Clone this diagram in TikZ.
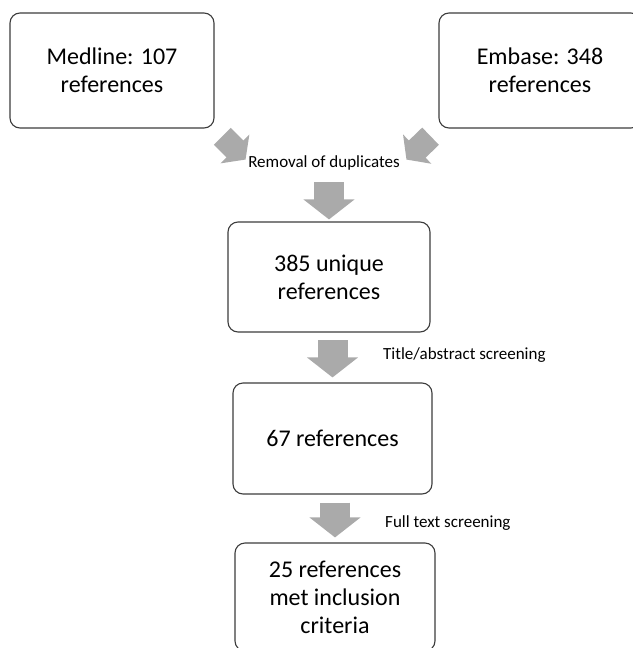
\documentclass[tikz,border=0pt]{standalone}
\usepackage{fontspec}
\setmainfont{Carlito}
\usetikzlibrary{arrows.meta}
\definecolor{arrowgray}{RGB}{170,170,170}
\definecolor{boxline}{RGB}{60,60,60}

\begin{document}
\begin{tikzpicture}[x=1pt, y=-1pt,
        refbox/.style={draw=boxline, line width=1.1pt, rounded corners=10pt,
            align=center, inner sep=0pt, font=\fontsize{24}{28}\selectfont},
        steplabel/.style={inner sep=0pt, font=\fontsize{17}{20}\selectfont},
        bigarrow/.style={draw=arrowgray, line width=30pt,
            -{Triangle[length=20pt, width=50pt]}},
        diagarrow/.style={draw=arrowgray, line width=24pt,
            -{Triangle[length=15pt, width=40pt]}}]
            \useasboundingbox (0,0) rectangle (632,648);
            % sources
            \node[refbox, minimum width=204pt, minimum height=115pt] (medline)
                at (112,70.5) {Medline: 107\\references};
            \node[refbox, minimum width=202pt, minimum height=115pt] (embase)
                at (540,70.5) {Embase: 348\\references};
            \node[steplabel] (dedup) at (324,163) {Removal of duplicates};
            \draw[diagarrow, shorten <=11pt] (medline.south east) -- ++(31,31);
            \draw[diagarrow, shorten <=11pt] (embase.south west) -- ++(-32,31);
            % screening steps
            \node[refbox, minimum width=202pt, minimum height=110pt] (unique)
                at (329,277) {385 unique\\references};
            \node[refbox, minimum width=199pt, minimum height=111pt] (screened)
                at (332.5,438.5) {67 references};
            \node[refbox, minimum width=200pt, minimum height=108pt] (included)
                at (335,597) {25 references\\met inclusion\\criteria};
            \node[steplabel, anchor=west] (tiabs) at (383,355) {Title/abstract screening};
            \node[steplabel, anchor=west] (fulltext) at (385,523) {Full text screening};
            \draw[bigarrow, shorten <=19pt, shorten >=2pt] (dedup.center -| unique.north) -- (unique.north);
            \draw[bigarrow, shorten <=7.5pt, shorten >=5pt] (unique.south -| screened.north) -- (screened.north);
            \draw[bigarrow, shorten <=8pt, shorten >=5pt] (screened.south -| included.north) -- (included.north);
\end{tikzpicture}
\end{document}
